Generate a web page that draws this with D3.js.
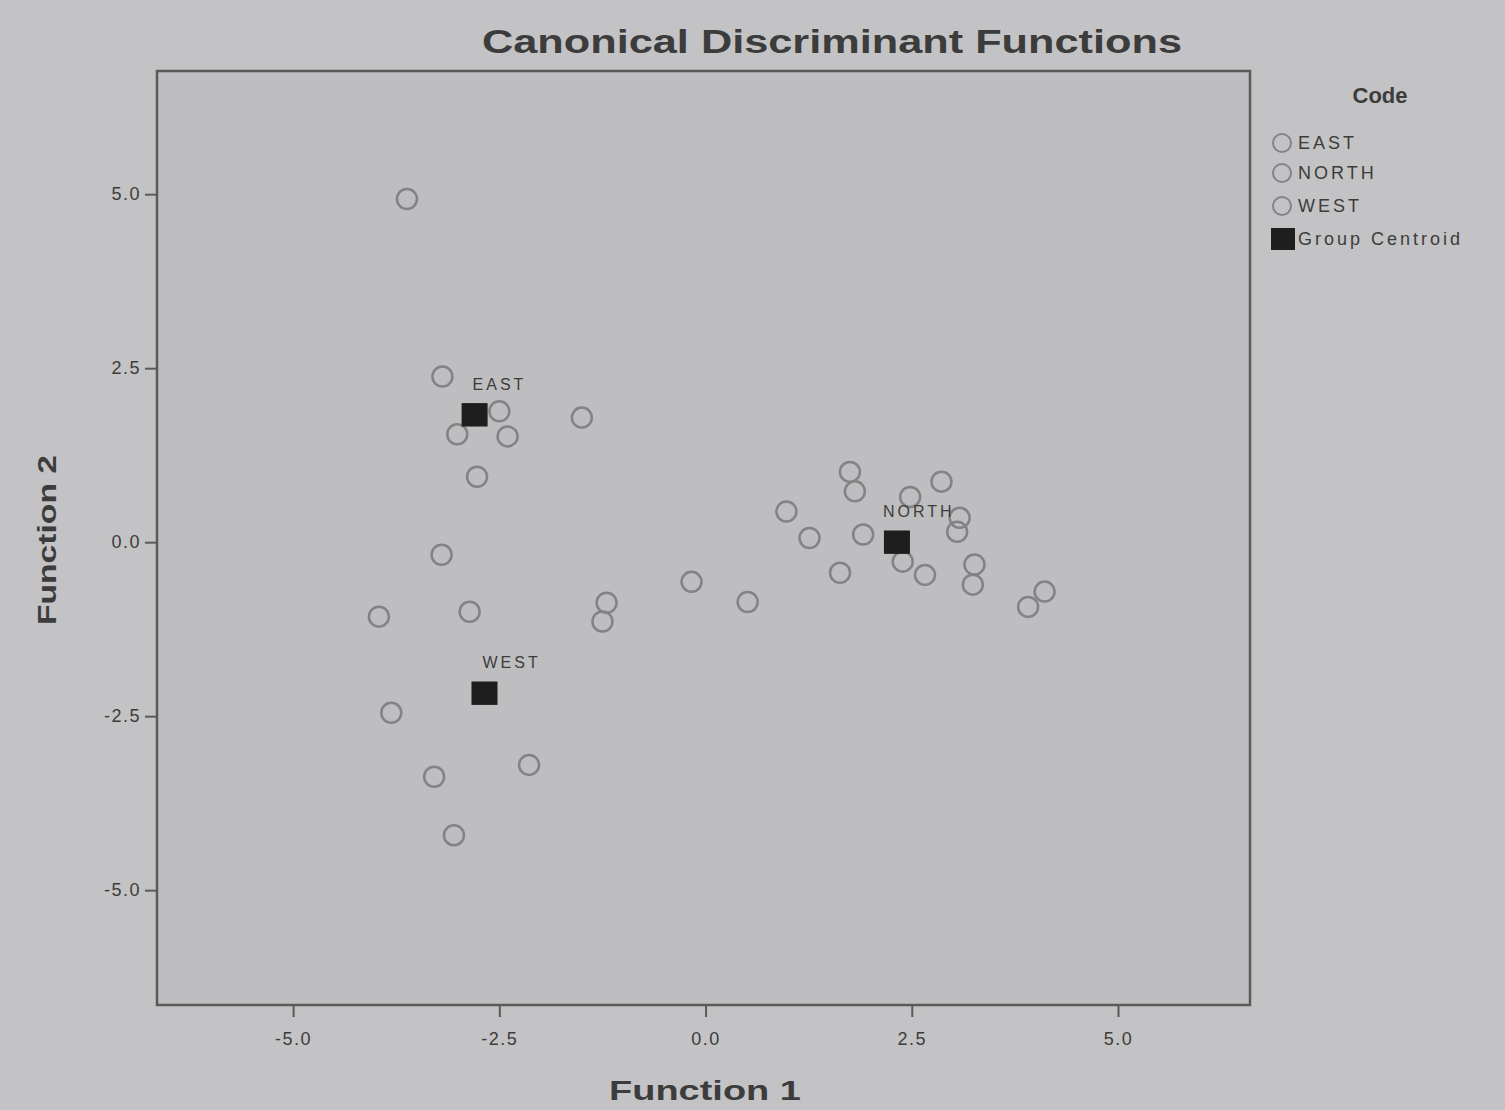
<!DOCTYPE html>
<html>
<head>
<meta charset="utf-8">
<script src="https://cdnjs.cloudflare.com/ajax/libs/d3/7.8.5/d3.min.js"></script>
<style>
  body { margin: 0; background: #c3c3c5; }
  svg text { font-family: "Liberation Sans", Arial, sans-serif; fill: #3c3c3c; }
</style>
</head>
<body>
<svg id="chart"></svg>
<script>
// discriminant scores [function 1, function 2]
const eastPoints = [
    [-3.62, 4.93], [-3.19, 2.38], [-2.50, 1.88], [-3.01, 1.55],
    [-2.40, 1.52], [-2.77, 0.94], [-1.50, 1.79], [-3.20, -0.18]
];
const northPoints = [
    [-0.17, -0.57], [0.51, -0.86], [0.98, 0.44], [1.26, 0.06],
    [1.75, 1.01], [1.81, 0.73], [1.91, 0.11], [1.63, -0.44],
    [2.48, 0.65], [2.86, 0.87], [3.08, 0.35], [3.05, 0.15],
    [2.39, -0.28], [2.66, -0.47], [3.26, -0.32], [3.24, -0.61],
    [4.11, -0.71], [3.91, -0.93]
];
const westPoints = [
    [-3.96, -1.07], [-2.86, -1.00], [-3.81, -2.45], [-3.29, -3.37],
    [-3.05, -4.21], [-2.14, -3.20], [-1.20, -0.87], [-1.25, -1.14]
];
const groupNames = ['EAST', 'NORTH', 'WEST'];
const centroids = [[-2.80, 1.83], [2.32, 0.00], [-2.68, -2.17]];
const tickValues = [-5.0, -2.5, 0.0, 2.5, 5.0];

const width = 1505, height = 1110;
const plot = { left: 157, right: 1250, top: 71, bottom: 1005 };

const svg = d3.select('#chart')
    .attr('width', width)
    .attr('height', height);

// scales
const x = d3.scaleLinear().domain([-6.65, 6.6]).range([plot.left, plot.right]);
const y = d3.scaleLinear().domain([-6.65, 6.77]).range([plot.bottom, plot.top]);

// plot frame
svg.append('rect')
    .attr('x', plot.left)
    .attr('y', plot.top)
    .attr('width', plot.right - plot.left)
    .attr('height', plot.bottom - plot.top)
    .attr('fill', '#bebec0')
    .attr('stroke', '#5a5a5a')
    .attr('stroke-width', 2.5);

// title
svg.append('text')
    .attr('x', 832)
    .attr('y', 53)
    .attr('text-anchor', 'middle')
    .attr('font-size', 34)
    .attr('font-weight', 'bold')
    .attr('fill', '#464646')
    .attr('textLength', 700)
    .attr('lengthAdjust', 'spacingAndGlyphs')
    .text('Canonical Discriminant Functions');

// axes - SPSS uses a plain hyphen for negatives
const fmt = d => d3.format('.1f')(d).replace('\u2212', '-');
const xAxis = svg.append('g')
    .attr('transform', `translate(0, ${plot.bottom})`)
    .call(d3.axisBottom(x).tickValues(tickValues).tickFormat(fmt).tickSize(12).tickPadding(12));
const yAxis = svg.append('g')
    .attr('transform', `translate(${plot.left}, 0)`)
    .call(d3.axisLeft(y).tickValues(tickValues).tickFormat(fmt).tickSize(12).tickPadding(4));

[xAxis, yAxis].forEach(a => {
    a.select('.domain').remove();
    a.selectAll('.tick line').attr('stroke', '#5a5a5a').attr('stroke-width', 2);
    a.selectAll('.tick text')
        .attr('font-size', 18)
        .attr('font-family', '"Liberation Sans", Arial, sans-serif')
        .attr('fill', '#555')
        .attr('letter-spacing', 1.5);
});
xAxis.selectAll('.tick text').attr('dy', '0.9em');

// axis titles
svg.append('text')
    .attr('x', 705)
    .attr('y', 1100)
    .attr('text-anchor', 'middle')
    .attr('font-size', 27)
    .attr('font-weight', 'bold')
    .attr('fill', '#464646')
    .attr('textLength', 192)
    .attr('lengthAdjust', 'spacingAndGlyphs')
    .text('Function 1');

svg.append('text')
    .attr('transform', 'translate(56, 540) rotate(-90)')
    .attr('text-anchor', 'middle')
    .attr('font-size', 25)
    .attr('font-weight', 'bold')
    .attr('fill', '#464646')
    .attr('textLength', 170)
    .attr('lengthAdjust', 'spacingAndGlyphs')
    .text('Function 2');

// individual cases
const allPoints = [eastPoints, northPoints, westPoints];
allPoints.forEach((pts, gi) => {
    svg.append('g')
        .attr('class', 'group-' + groupNames[gi])
        .selectAll('circle')
        .data(pts)
        .enter()
        .append('circle')
        .attr('cx', d => x(d[0]))
        .attr('cy', d => y(d[1]))
        .attr('r', 10)
        .attr('fill', 'none')
        .attr('stroke', '#838385')
        .attr('stroke-width', 2.5);
});

// group centroids
const cs = 26;
svg.selectAll('.centroid')
    .data(centroids)
    .enter()
    .append('rect')
    .attr('class', 'centroid')
    .attr('x', d => x(d[0]) - cs / 2)
    .attr('y', d => y(d[1]) - cs * 0.45)
    .attr('width', cs)
    .attr('height', cs * 0.9)
    .attr('fill', '#1e1e1e');

svg.selectAll('.centroid-label')
    .data(centroids)
    .enter()
    .append('text')
    .attr('class', 'centroid-label')
    .attr('x', (d, i) => x(d[0]) - (i === 1 ? 14 : 2))
    .attr('y', d => y(d[1]) - 25)
    .attr('font-size', 16)
    .attr('letter-spacing', 3)
    .attr('fill', '#555')
    .text((d, i) => groupNames[i]);

// legend
const legend = svg.append('g').attr('transform', 'translate(1270, 0)');
legend.append('text')
    .attr('x', 110)
    .attr('y', 103)
    .attr('text-anchor', 'middle')
    .attr('font-size', 22)
    .attr('font-weight', 'bold')
    .attr('fill', '#555')
    .text('Code');

const legendItems = groupNames.concat(['Group Centroid']);
const item = legend.selectAll('.legend-item')
    .data(legendItems)
    .enter()
    .append('g')
    .attr('class', 'legend-item')
    .attr('transform', (d, i) => `translate(0, ${[143, 173, 206, 239][i]})`);

item.filter((d, i) => i < 3)
    .append('circle')
    .attr('cx', 12)
    .attr('cy', 0)
    .attr('r', 9)
    .attr('fill', 'none')
    .attr('stroke', '#838385')
    .attr('stroke-width', 2);

item.filter((d, i) => i === 3)
    .append('rect')
    .attr('x', 1)
    .attr('y', -11)
    .attr('width', 24)
    .attr('height', 22)
    .attr('fill', '#1e1e1e');

item.append('text')
    .attr('x', 28)
    .attr('y', 6)
    .attr('font-size', 18)
    .attr('letter-spacing', 3)
    .attr('fill', '#5a5a5a')
    .text(d => d);
</script>
</body>
</html>
